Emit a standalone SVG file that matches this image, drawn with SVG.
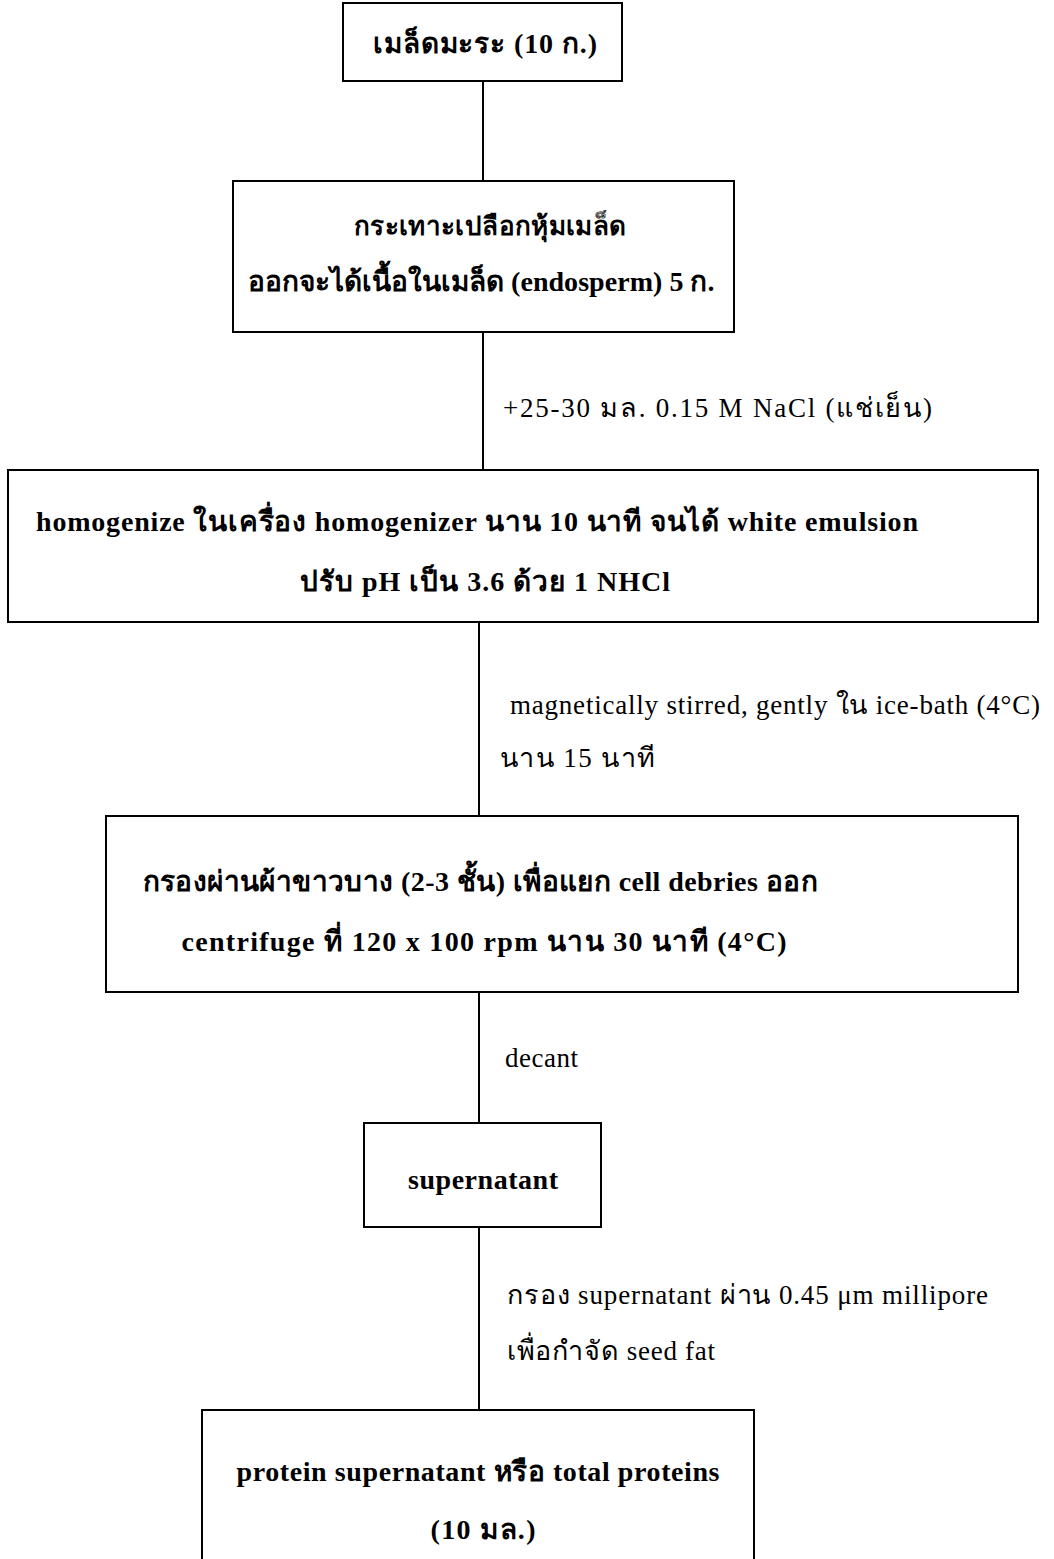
<svg xmlns="http://www.w3.org/2000/svg" width="1054" height="1559" viewBox="0 0 1054 1559">
<style>
.box{fill:#fff;stroke:#000;stroke-width:2}
.edge{stroke:#000;stroke-width:2;fill:none}
.t{font-family:"Liberation Serif","Noto Sans","DejaVu Sans",serif;font-weight:bold;font-size:28px;fill:#000;text-anchor:middle}
.l{font-family:"Liberation Serif","Noto Sans","DejaVu Sans",serif;font-size:27px;fill:#000}
</style>
<rect width="1054" height="1559" fill="#fff"/>
<g id="connectors">
<line class="edge" x1="483" y1="81" x2="483" y2="181"/>
<line class="edge" x1="483" y1="332" x2="483" y2="470"/>
<line class="edge" x1="479" y1="622" x2="479" y2="816"/>
<line class="edge" x1="479" y1="992" x2="479" y2="1123"/>
<line class="edge" x1="479" y1="1227" x2="479" y2="1410"/>
<text class="l" x="503" y="417" textLength="429" lengthAdjust="spacing">+25-30 มล. 0.15 M NaCl (แช่เย็น)</text>
<text class="l" x="510" y="714" textLength="530" lengthAdjust="spacing">magnetically stirred, gently ใน ice-bath (4°C)</text>
<text class="l" x="500" y="767" textLength="155" lengthAdjust="spacing">นาน 15 นาที</text>
<text class="l" x="505" y="1067" textLength="73" lengthAdjust="spacing">decant</text>
<text class="l" x="507" y="1304" textLength="481" lengthAdjust="spacing">กรอง supernatant ผ่าน 0.45 μm millipore</text>
<text class="l" x="507" y="1360" textLength="208" lengthAdjust="spacing">เพื่อกำจัด seed fat</text>
</g>
<g id="n1">
<rect class="box" x="343" y="3" width="279" height="78"/>
<text class="t" x="485" y="53" textLength="224" lengthAdjust="spacing">เมล็ดมะระ (10 ก.)</text>
</g>
<g id="n2">
<rect class="box" x="233" y="181" width="501" height="151"/>
<text class="t" x="490" y="235" textLength="272" lengthAdjust="spacing" style="font-size:26px">กระเทาะเปลือกหุ้มเมล็ด</text>
<text class="t" x="481" y="291" textLength="467" lengthAdjust="spacing">ออกจะได้เนื้อในเมล็ด (endosperm) 5 ก.</text>
</g>
<g id="n3">
<rect class="box" x="8" y="470" width="1030" height="152"/>
<text class="t" x="477" y="531" textLength="882" lengthAdjust="spacing">homogenize ในเครื่อง homogenizer นาน 10 นาที จนได้ white emulsion</text>
<text class="t" x="485" y="591" textLength="370" lengthAdjust="spacing">ปรับ pH เป็น 3.6 ด้วย 1 NHCl</text>
</g>
<g id="n4">
<rect class="box" x="106" y="816" width="912" height="176"/>
<text class="t" x="480" y="891" textLength="675" lengthAdjust="spacing">กรองผ่านผ้าขาวบาง (2-3 ชั้น) เพื่อแยก cell debries ออก</text>
<text class="t" x="484" y="951" textLength="605" lengthAdjust="spacing">centrifuge ที่ 120 x 100 rpm นาน 30 นาที (4°C)</text>
</g>
<g id="n5">
<rect class="box" x="364" y="1123" width="237" height="104"/>
<text class="t" x="483" y="1189" textLength="150" lengthAdjust="spacing">supernatant</text>
</g>
<g id="n6">
<rect class="box" x="202" y="1410" width="552" height="160"/>
<text class="t" x="478" y="1481" textLength="483" lengthAdjust="spacing">protein supernatant หรือ total proteins</text>
<text class="t" x="483" y="1539" textLength="105" lengthAdjust="spacing">(10 มล.)</text>
</g>
</svg>
